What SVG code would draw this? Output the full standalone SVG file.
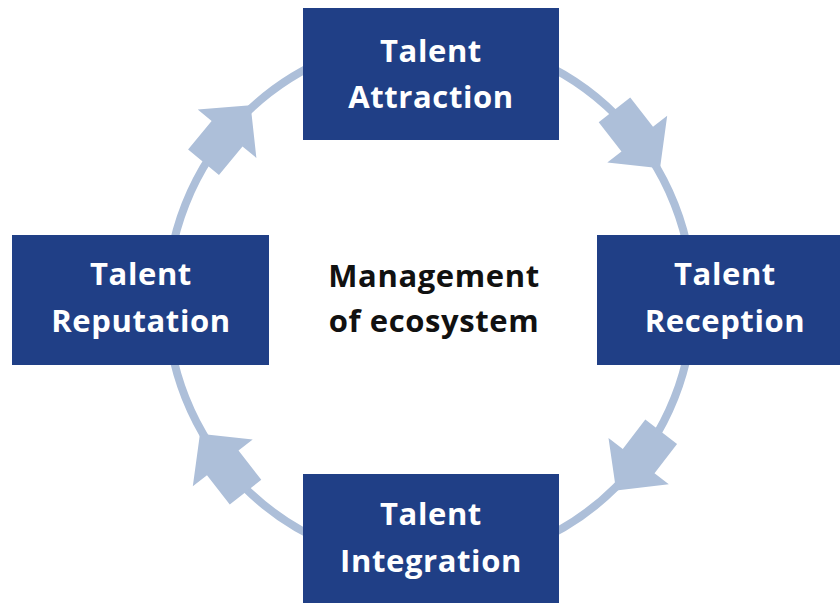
<svg xmlns="http://www.w3.org/2000/svg" width="840" height="603" viewBox="0 0 840 603">
  <defs>
    <style>
      .box { fill: #203f86; }
      .label { font-family: "Open Sans", "Liberation Sans", sans-serif; font-weight: 700; font-size: 31px; letter-spacing: 0.6px; fill: #ffffff; text-anchor: middle; }
      .center { font-family: "Open Sans", "Liberation Sans", sans-serif; font-weight: 700; font-size: 31px; letter-spacing: 0.6px; fill: #111111; text-anchor: middle; }
      .ring { fill: none; stroke: #adbfd9; stroke-width: 8; }
      .arrow { fill: #adbfd9; }
    </style>
    <!-- block arrow pointing along +x, head base at origin -->
    <polygon id="blockArrow" class="arrow" points="-37,-20 0,-20 0,-38 37,0 0,38 0,20 -37,20"/>
  </defs>

  <rect width="840" height="603" fill="#ffffff"/>

  <!-- cycle ring with clockwise arrows -->
  <g id="connectors">
    <circle class="ring" cx="430" cy="301" r="263"/>
    <use href="#blockArrow" transform="translate(430 301) rotate(-140.5) translate(263 0) rotate(90)"/>
    <use href="#blockArrow" transform="translate(430 301) rotate(-38) translate(263 0) rotate(90)"/>
    <use href="#blockArrow" transform="translate(430 301) rotate(37.5) translate(263 0) rotate(90)"/>
    <use href="#blockArrow" transform="translate(430 301) rotate(142) translate(263 0) rotate(90)"/>
  </g>

  <g id="attraction">
    <rect class="box" x="303" y="8" width="256" height="132"/>
    <text class="label" x="431" y="62">Talent</text>
    <text class="label" x="431" y="108">Attraction</text>
  </g>

  <g id="reception">
    <rect class="box" x="597" y="235" width="260" height="130"/>
    <text class="label" x="725" y="285">Talent</text>
    <text class="label" x="725" y="332">Reception</text>
  </g>

  <g id="integration">
    <rect class="box" x="303" y="474" width="256" height="140"/>
    <text class="label" x="431" y="525">Talent</text>
    <text class="label" x="431" y="572">Integration</text>
  </g>

  <g id="reputation">
    <rect class="box" x="12" y="235" width="257" height="130"/>
    <text class="label" x="141" y="285">Talent</text>
    <text class="label" x="141" y="332">Reputation</text>
  </g>

  <g id="management">
    <text class="center" x="434" y="287">Management</text>
    <text class="center" x="434" y="332">of ecosystem</text>
  </g>
</svg>
